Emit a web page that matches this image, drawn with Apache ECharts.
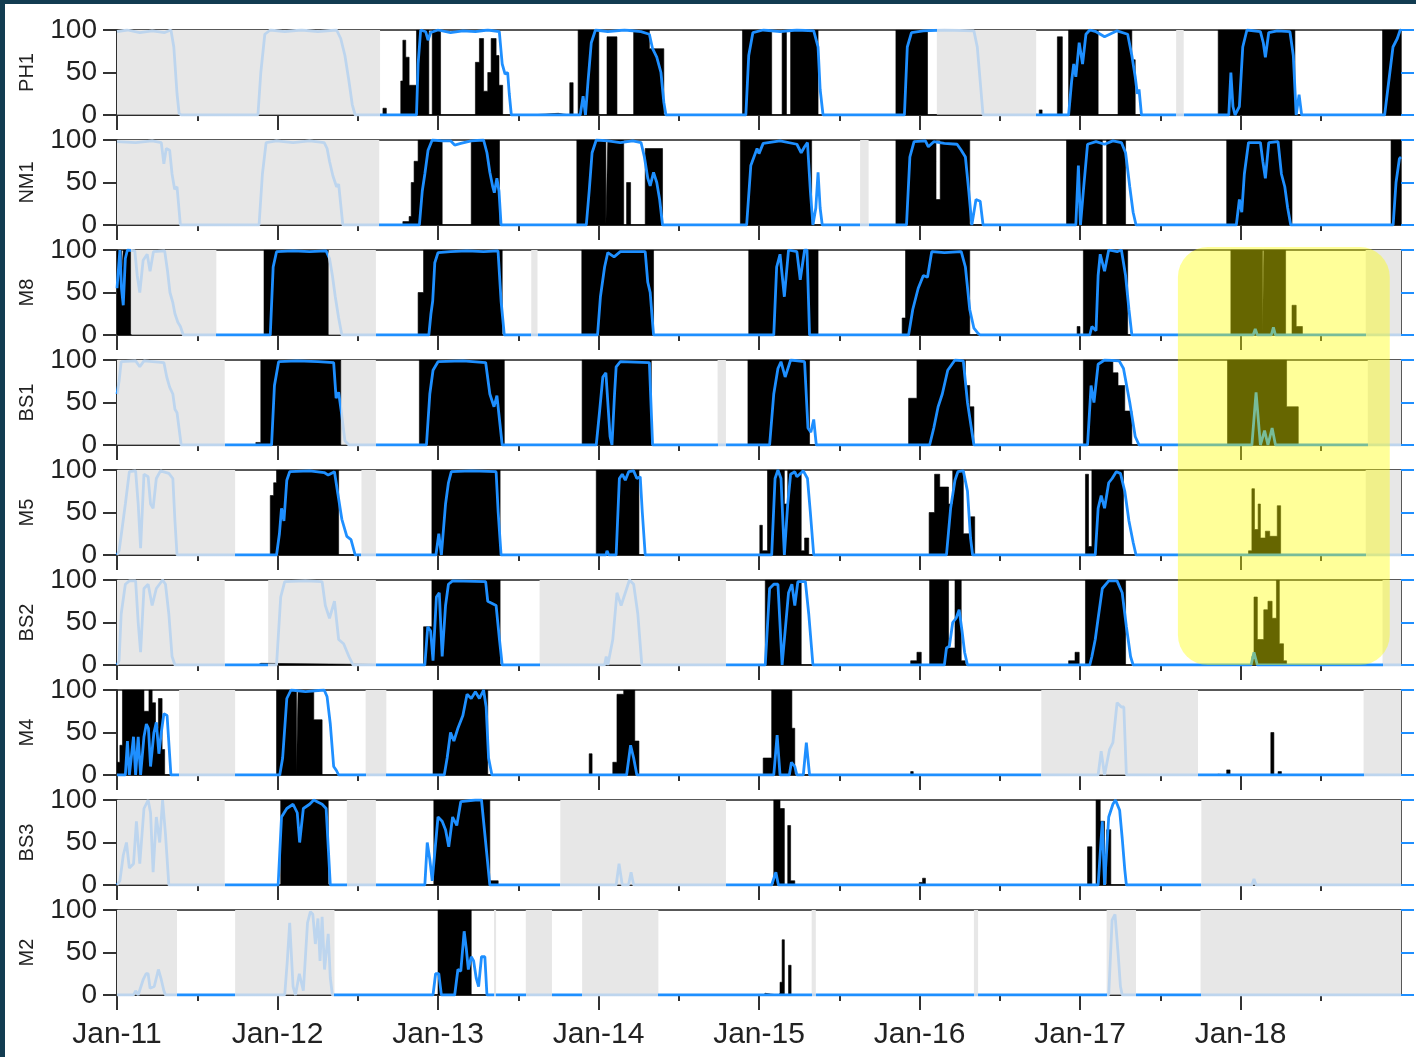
<!DOCTYPE html>
<html><head><meta charset="utf-8">
<script src="https://cdn.jsdelivr.net/npm/echarts@6/dist/echarts.min.js"></script>
<style>
html,body{margin:0;padding:0;background:#fff;}
#c{position:absolute;left:0;top:0;width:1416px;height:1057px;}
.fr{position:absolute;background:#123c51;z-index:5;}
</style></head><body>
<div id="c"></div>
<div class="fr" style="left:0;top:0;width:1416px;height:4px"></div>
<div class="fr" style="left:0;top:0;width:5px;height:1057px"></div>
<script>
// ---------- DATA (x = decimal year, y = %) ----------
const PANELS = ['PH1','NM1','M8','BS1','M5','BS2','M4','BS3','M2'];
const yearTicks = [2011,2012,2013,2014,2015,2016,2017,2018];
const yearLabels = ['Jan-11','Jan-12','Jan-13','Jan-14','Jan-15','Jan-16','Jan-17','Jan-18'];
const highlightFrom = 2017.61, highlightTo = 2018.93;
const highlightTopPanel = 'M8', highlightBottomPanel = 'BS2';

const PH1_gray = [[2011.0,2012.639],[2016.108,2016.727],[2017.599,2017.646]];
const PH1_blue = [
[2011.0,98],[2011.065,100],[2011.142,97],[2011.219,99],[2011.297,97],[2011.336,100],[2011.354,80],[2011.374,25],[2011.387,2],[2011.400,0],
[2011.878,0],[2011.896,50],[2011.921,95],[2011.955,100],[2012.045,98],[2012.149,100],[2012.252,98],[2012.368,100],[2012.394,90],[2012.420,70],[2012.445,40],[2012.466,12],[2012.484,0],
[2012.866,0],[2012.876,60],[2012.892,100],[2012.923,98],[2012.938,88],[2012.954,97],[2013.000,100],[2013.078,97],[2013.155,99],[2013.233,98],[2013.310,100],[2013.382,98],[2013.400,60],[2013.418,48],[2013.434,50],[2013.444,25],[2013.457,0],
[2013.886,0],[2013.904,22],[2013.919,0],[2013.935,40],[2013.955,85],[2013.981,100],[2014.058,98],[2014.162,100],[2014.265,98],[2014.317,95],[2014.337,78],[2014.363,68],[2014.389,50],[2014.407,15],[2014.420,0],
[2014.918,0],[2014.936,70],[2014.962,97],[2015.026,100],[2015.131,98],[2015.236,100],[2015.341,99],[2015.368,80],[2015.381,30],[2015.399,0],
[2015.906,0],[2015.924,80],[2015.950,97],[2016.024,99],[2016.155,100],[2016.339,99],[2016.360,80],[2016.378,40],[2016.396,0],
[2016.929,0],[2016.948,40],[2016.961,60],[2016.974,45],[2016.995,85],[2017.016,60],[2017.037,95],[2017.061,100],[2017.100,98],[2017.153,92],[2017.231,99],[2017.297,95],[2017.323,70],[2017.344,45],[2017.357,25],[2017.368,30],[2017.383,0],
[2017.927,0],[2017.940,50],[2017.953,10],[2017.966,0],[2017.993,10],[2018.014,80],[2018.040,100],[2018.124,98],[2018.142,85],[2018.155,68],[2018.176,97],[2018.229,99],[2018.308,98],[2018.329,70],[2018.347,0],[2018.365,24],[2018.381,0],
[2018.898,0],[2018.924,40],[2018.950,80],[2018.977,90],[2018.995,100],[2019.0,100]
];
const PH1_black = [
[2011.0,0],[2012.657,8],[2012.678,0],[2012.768,40],[2012.781,88],[2012.799,68],[2012.820,35],[2012.866,100],[2012.943,0],[2012.964,100],[2013.016,0],
[2013.233,62],[2013.258,90],[2013.284,28],[2013.310,50],[2013.331,90],[2013.362,70],[2013.380,35],[2013.403,0],
[2013.568,2],[2013.749,0],
[2013.821,38],[2013.842,0],[2013.873,100],[2014.002,0],[2014.053,92],[2014.115,0],[2014.219,100],[2014.317,78],[2014.407,0],
[2014.897,100],[2015.079,0],[2015.144,100],[2015.171,0],[2015.197,100],[2015.368,0],
[2015.853,100],[2016.050,0],
[2016.746,6],[2016.764,0],
[2016.859,92],[2016.890,0],[2016.929,100],[2017.113,0],[2017.237,100],[2017.323,65],[2017.344,0],
[2017.861,100],[2018.339,0],
[2018.885,100],[2019.0,100]
];

const NM1_gray = [[2011.0,2012.634],[2015.630,2015.683]];
const NM1_blue = [
[2011.0,98],[2011.116,97],[2011.219,99],[2011.276,97],[2011.292,72],[2011.307,90],[2011.328,88],[2011.343,60],[2011.359,42],[2011.374,45],[2011.395,0],
[2011.885,0],[2011.906,60],[2011.929,97],[2011.994,99],[2012.097,97],[2012.200,99],[2012.291,97],[2012.309,90],[2012.324,75],[2012.345,58],[2012.368,45],[2012.381,48],[2012.407,0],
[2012.884,0],[2012.902,40],[2012.918,60],[2012.938,88],[2012.964,100],[2013.026,99],[2013.078,99],[2013.104,94],[2013.142,96],[2013.207,99],[2013.284,100],[2013.305,85],[2013.323,62],[2013.341,45],[2013.351,38],[2013.367,55],[2013.380,40],[2013.393,0],
[2013.924,0],[2013.942,40],[2013.960,85],[2013.986,100],[2014.058,99],[2014.136,97],[2014.213,99],[2014.265,97],[2014.286,80],[2014.307,55],[2014.322,46],[2014.343,62],[2014.363,50],[2014.381,30],[2014.399,0],
[2014.923,0],[2014.949,70],[2014.988,90],[2015.0,84],[2015.026,96],[2015.131,99],[2015.236,95],[2015.263,85],[2015.284,92],[2015.302,97],[2015.320,40],[2015.336,0],[2015.354,20],[2015.368,62],[2015.381,20],[2015.394,0],
[2015.919,0],[2015.940,80],[2015.966,98],[2016.037,99],[2016.055,92],[2016.089,98],[2016.155,96],[2016.234,95],[2016.260,88],[2016.286,80],[2016.307,40],[2016.326,0],[2016.352,30],[2016.378,28],[2016.396,0],
[2016.974,0],[2016.990,70],[2017.003,0],[2017.021,40],[2017.047,95],[2017.100,98],[2017.153,95],[2017.205,99],[2017.258,97],[2017.284,85],[2017.310,45],[2017.331,15],[2017.349,0],
[2017.974,0],[2017.993,30],[2018.008,15],[2018.024,60],[2018.050,97],[2018.124,97],[2018.139,75],[2018.155,55],[2018.176,97],[2018.234,98],[2018.255,60],[2018.276,45],[2018.294,20],[2018.313,0],
[2018.951,0],[2018.969,50],[2018.990,78],[2019.0,80]
];
const NM1_black = [
[2011.0,0],[2012.781,4],[2012.820,10],[2012.833,50],[2012.851,75],[2012.876,100],[2013.026,0],[2013.207,100],[2013.383,0],
[2013.865,100],[2014.046,0],[2014.058,100],[2014.157,0],[2014.175,50],[2014.200,0],[2014.291,90],[2014.399,0],
[2014.884,100],[2015.328,0],
[2015.853,100],[2016.103,30],[2016.129,100],[2016.313,0],
[2016.916,100],[2017.139,0],[2017.166,100],[2017.284,0],
[2017.914,100],[2018.321,0],
[2018.938,100],[2019.0,100]
];

const M8_gray = [[2011.090,2011.619],[2012.316,2012.613],[2013.581,2013.620],[2018.780,2019.0]];
const M8_blue = [
[2011.0,55],[2011.008,75],[2011.018,100],[2011.028,55],[2011.039,35],[2011.052,90],[2011.065,100],[2011.111,99],[2011.126,70],[2011.142,50],[2011.163,88],[2011.188,95],[2011.206,75],[2011.227,98],[2011.297,99],[2011.315,75],[2011.330,50],[2011.348,38],[2011.361,25],[2011.379,15],[2011.395,10],[2011.413,0],
[2011.955,0],[2011.973,80],[2011.994,98],[2012.097,99],[2012.200,98],[2012.303,99],[2012.324,90],[2012.342,70],[2012.360,45],[2012.381,20],[2012.401,0],
[2012.943,0],[2012.956,25],[2012.967,40],[2012.980,85],[2013.000,97],[2013.078,98],[2013.181,99],[2013.284,98],[2013.374,99],[2013.393,40],[2013.413,0],
[2013.994,0],[2014.012,45],[2014.038,80],[2014.058,97],[2014.097,92],[2014.136,98],[2014.291,98],[2014.307,62],[2014.322,50],[2014.343,0],
[2015.092,0],[2015.110,80],[2015.131,95],[2015.158,45],[2015.184,100],[2015.236,98],[2015.257,65],[2015.284,100],[2015.299,100],[2015.315,0],
[2015.932,0],[2015.958,30],[2015.992,55],[2016.024,70],[2016.050,68],[2016.076,98],[2016.155,97],[2016.260,98],[2016.286,80],[2016.313,30],[2016.339,8],[2016.365,2],[2016.378,0],
[2017.061,0],[2017.074,10],[2017.100,5],[2017.113,70],[2017.126,95],[2017.153,75],[2017.179,100],[2017.231,98],[2017.258,100],[2017.284,70],[2017.305,30],[2017.323,0],
[2018.079,0],[2018.092,7],[2018.105,0],[2018.192,0],[2018.205,9],[2018.218,0],[2019.0,0]
];
const M8_black = [
[2011.0,100],[2011.028,70],[2011.039,100],[2011.085,0],
[2011.916,100],[2012.316,0],
[2012.876,50],[2012.910,100],[2013.400,0],
[2013.896,100],[2014.343,0],
[2014.936,100],[2015.368,0],
[2015.892,20],[2015.913,100],[2016.313,0],
[2016.982,10],[2017.000,0],[2017.021,100],[2017.297,0],
[2017.940,100],[2018.137,0],[2018.145,100],[2018.281,0],[2018.321,35],[2018.347,10],[2018.386,0],[2019.0,0]
];

const BS1_gray = [[2011.0,2011.671],[2012.394,2012.613],[2014.742,2014.794],[2018.793,2019.0]];
const BS1_blue = [
[2011.0,60],[2011.013,75],[2011.026,98],[2011.116,99],[2011.142,92],[2011.168,99],[2011.292,97],[2011.310,80],[2011.328,68],[2011.348,60],[2011.361,42],[2011.374,38],[2011.400,0],
[2011.963,0],[2011.981,70],[2012.007,98],[2012.123,99],[2012.252,98],[2012.350,97],[2012.365,55],[2012.381,62],[2012.397,40],[2012.420,5],[2012.445,0],
[2012.928,0],[2012.949,60],[2012.969,88],[2013.000,98],[2013.155,99],[2013.297,97],[2013.323,60],[2013.349,45],[2013.367,58],[2013.383,30],[2013.400,0],
[2013.986,0],[2014.007,40],[2014.027,80],[2014.046,85],[2014.072,10],[2014.084,0],[2014.100,60],[2014.110,92],[2014.136,98],[2014.317,97],[2014.337,0],
[2015.066,0],[2015.092,60],[2015.118,90],[2015.137,98],[2015.163,80],[2015.197,100],[2015.284,98],[2015.305,20],[2015.323,15],[2015.341,30],[2015.357,0],
[2016.063,0],[2016.089,20],[2016.116,45],[2016.142,60],[2016.176,88],[2016.221,100],[2016.273,99],[2016.299,50],[2016.339,0],
[2017.047,0],[2017.069,70],[2017.087,50],[2017.113,95],[2017.153,100],[2017.244,99],[2017.271,90],[2017.310,50],[2017.344,10],[2017.368,0],
[2018.071,0],[2018.097,62],[2018.124,0],[2018.150,17],[2018.171,0],[2018.197,20],[2018.218,0],[2019.0,0]
];
const BS1_black = [
[2011.0,0],[2011.865,3],[2011.896,100],[2012.394,0],
[2012.884,100],[2013.413,0],
[2013.898,100],[2014.329,0],
[2014.931,100],[2015.315,0],
[2015.932,55],[2015.984,100],[2016.286,70],[2016.313,45],[2016.339,0],
[2017.021,100],[2017.205,85],[2017.237,70],[2017.279,40],[2017.323,0],
[2017.919,100],[2018.287,45],[2018.360,0],[2019.0,0]
];

const M5_gray = [[2011.0,2011.736],[2012.523,2012.613],[2018.780,2019.0]];
const M5_blue = [
[2011.0,0],[2011.013,5],[2011.031,30],[2011.052,60],[2011.077,98],[2011.116,99],[2011.132,60],[2011.147,8],[2011.168,95],[2011.194,92],[2011.209,60],[2011.225,55],[2011.245,90],[2011.271,99],[2011.323,96],[2011.348,90],[2011.361,40],[2011.374,0],
[2011.994,0],[2012.012,25],[2012.025,55],[2012.040,40],[2012.058,88],[2012.076,98],[2012.200,99],[2012.291,97],[2012.316,94],[2012.355,98],[2012.376,72],[2012.401,42],[2012.432,22],[2012.458,18],[2012.484,0],
[2012.987,0],[2013.005,25],[2013.021,0],[2013.047,60],[2013.065,85],[2013.083,98],[2013.207,99],[2013.362,98],[2013.375,50],[2013.393,0],
[2014.046,0],[2014.053,5],[2014.064,0],[2014.110,0],[2014.130,90],[2014.148,95],[2014.167,88],[2014.188,98],[2014.219,99],[2014.239,90],[2014.260,92],[2014.273,50],[2014.291,0],
[2015.079,0],[2015.100,90],[2015.118,100],[2015.137,90],[2015.158,0],[2015.179,60],[2015.197,95],[2015.223,98],[2015.236,92],[2015.276,99],[2015.302,90],[2015.320,50],[2015.341,0],
[2016.168,0],[2016.194,55],[2016.221,88],[2016.239,98],[2016.273,99],[2016.299,75],[2016.318,20],[2016.331,0],
[2017.095,0],[2017.113,55],[2017.132,70],[2017.153,55],[2017.179,85],[2017.200,90],[2017.226,98],[2017.252,96],[2017.279,75],[2017.305,40],[2017.331,15],[2017.349,0],[2019.0,0]
];
const M5_black = [
[2011.0,0],[2011.955,70],[2011.976,85],[2011.994,100],[2012.381,0],
[2012.962,100],[2013.387,0],
[2013.986,100],[2014.252,0],
[2015.005,35],[2015.021,5],[2015.053,100],[2015.158,60],[2015.179,100],[2015.263,5],[2015.284,20],[2015.310,0],
[2016.060,50],[2016.094,95],[2016.126,80],[2016.181,60],[2016.207,100],[2016.273,25],[2016.318,45],[2016.344,0],
[2017.034,95],[2017.053,10],[2017.074,100],[2017.271,0],
[2018.050,5],[2018.071,78],[2018.087,30],[2018.110,60],[2018.124,20],[2018.155,28],[2018.182,22],[2018.229,58],[2018.250,0],[2019.0,0]
];

const BS2_gray = [[2011.0,2011.671],[2011.942,2012.613],[2013.633,2014.794],[2018.885,2019.0]];
const BS2_blue = [
[2011.0,0],[2011.013,5],[2011.026,60],[2011.052,95],[2011.077,99],[2011.116,99],[2011.132,50],[2011.147,15],[2011.168,90],[2011.194,95],[2011.219,70],[2011.245,90],[2011.284,100],[2011.302,95],[2011.323,60],[2011.343,10],[2011.361,0],
[2011.994,0],[2012.020,80],[2012.045,98],[2012.174,99],[2012.278,98],[2012.298,70],[2012.324,55],[2012.355,75],[2012.381,30],[2012.412,25],[2012.445,10],[2012.471,0],
[2012.918,0],[2012.936,45],[2012.954,40],[2012.969,5],[2012.990,80],[2013.008,85],[2013.026,10],[2013.047,70],[2013.065,95],[2013.091,99],[2013.297,98],[2013.310,75],[2013.362,70],[2013.383,30],[2013.400,0],
[2014.038,0],[2014.048,10],[2014.058,0],[2014.089,30],[2014.115,85],[2014.141,70],[2014.167,85],[2014.193,100],[2014.219,95],[2014.245,60],[2014.270,0],
[2015.039,0],[2015.066,90],[2015.092,95],[2015.118,95],[2015.144,0],[2015.184,85],[2015.205,95],[2015.223,70],[2015.242,98],[2015.289,98],[2015.310,60],[2015.336,0],
[2016.155,0],[2016.168,20],[2016.186,22],[2016.207,50],[2016.228,55],[2016.247,65],[2016.265,40],[2016.281,15],[2016.299,0],
[2017.061,0],[2017.074,10],[2017.095,30],[2017.113,55],[2017.139,90],[2017.179,99],[2017.231,99],[2017.263,85],[2017.289,45],[2017.315,10],[2017.331,0],
[2018.066,0],[2018.084,15],[2018.105,0],[2019.0,0]
];
const BS2_black = [
[2011.0,0],[2011.877,2],[2011.896,0],
[2012.910,45],[2012.962,100],[2013.387,0],
[2015.039,100],[2015.263,0],
[2015.945,5],[2015.984,15],[2016.011,0],[2016.063,100],[2016.181,20],[2016.221,100],[2016.260,5],[2016.286,0],
[2016.929,5],[2016.969,15],[2016.995,0],[2017.034,100],[2017.284,0],
[2018.071,10],[2018.084,80],[2018.105,30],[2018.145,65],[2018.171,75],[2018.197,55],[2018.224,100],[2018.242,25],[2018.268,5],[2018.287,0],[2019.0,0]
];

const M4_gray = [[2011.387,2011.736],[2012.549,2012.678],[2016.759,2017.735],[2018.767,2019.0]];
const M4_blue = [
[2011.0,0],[2011.052,0],[2011.065,40],[2011.077,0],[2011.103,45],[2011.116,0],[2011.132,45],[2011.147,0],[2011.168,45],[2011.183,60],[2011.196,55],[2011.209,10],[2011.230,50],[2011.245,62],[2011.261,25],[2011.276,50],[2011.292,72],[2011.312,70],[2011.336,0],
[2012.014,0],[2012.032,20],[2012.058,90],[2012.084,100],[2012.174,98],[2012.291,100],[2012.309,92],[2012.329,60],[2012.350,10],[2012.368,5],[2012.381,0],
[2013.039,0],[2013.057,20],[2013.078,50],[2013.099,40],[2013.124,55],[2013.155,70],[2013.181,95],[2013.207,90],[2013.233,98],[2013.258,90],[2013.284,100],[2013.300,80],[2013.315,20],[2013.336,0],
[2014.175,0],[2014.200,35],[2014.219,20],[2014.239,0],
[2015.092,0],[2015.113,47],[2015.131,0],[2015.189,0],[2015.202,15],[2015.223,10],[2015.236,0],[2015.276,0],[2015.295,38],[2015.315,0],
[2017.113,0],[2017.132,28],[2017.153,0],[2017.184,30],[2017.205,38],[2017.231,85],[2017.258,80],[2017.273,80],[2017.289,0],[2019.0,0]
];
const M4_black = [
[2011.0,15],[2011.018,35],[2011.034,100],[2011.168,75],[2011.199,100],[2011.219,85],[2011.240,55],[2011.258,90],[2011.281,30],[2011.297,0],
[2011.994,100],[2012.118,0],[2012.128,100],[2012.226,65],[2012.278,0],
[2012.969,100],[2013.310,0],
[2013.942,25],[2013.960,0],[2014.089,15],[2014.115,95],[2014.157,100],[2014.226,40],[2014.252,0],
[2015.026,20],[2015.079,100],[2015.205,55],[2015.223,0],
[2015.945,4],[2015.961,0],
[2017.848,1],[2017.861,0],[2017.914,6],[2017.935,0],[2018.189,50],[2018.208,0],[2018.234,4],[2018.255,0],[2019.0,0]
];

const BS3_gray = [[2011.0,2011.671],[2012.432,2012.613],[2013.762,2014.794],[2017.756,2019.0]];
const BS3_blue = [
[2011.0,0],[2011.018,5],[2011.039,35],[2011.059,50],[2011.077,20],[2011.103,25],[2011.121,75],[2011.142,25],[2011.168,90],[2011.194,100],[2011.209,85],[2011.225,15],[2011.245,80],[2011.266,50],[2011.284,100],[2011.302,60],[2011.323,0],
[2012.004,0],[2012.025,80],[2012.058,90],[2012.097,95],[2012.123,85],[2012.138,50],[2012.161,90],[2012.200,95],[2012.226,100],[2012.278,95],[2012.303,90],[2012.329,0],
[2012.918,0],[2012.933,50],[2012.949,30],[2012.964,5],[2013.000,80],[2013.026,75],[2013.047,65],[2013.067,45],[2013.091,80],[2013.117,70],[2013.142,98],[2013.233,100],[2013.271,100],[2013.297,50],[2013.323,0],
[2014.110,0],[2014.128,25],[2014.148,0],[2014.187,0],[2014.203,15],[2014.219,0],
[2015.079,0],[2015.105,15],[2015.121,0],
[2017.113,0],[2017.139,75],[2017.153,0],[2017.179,80],[2017.205,95],[2017.221,100],[2017.247,88],[2017.263,55],[2017.279,18],[2017.289,0],
[2018.071,0],[2018.084,7],[2018.097,0],[2019.0,0]
];
const BS3_black = [
[2011.0,0],[2012.020,100],[2012.316,0],
[2012.974,100],[2013.323,5],[2013.375,0],
[2015.092,100],[2015.131,90],[2015.158,0],[2015.179,70],[2015.197,5],[2015.223,0],
[2015.998,3],[2016.019,8],[2016.037,0],
[2017.047,45],[2017.074,0],[2017.100,100],[2017.126,75],[2017.153,0],[2017.166,65],[2017.192,0],[2019.0,0]
];

const M2_gray = [[2011.0,2011.374],[2011.736,2012.355],[2013.349,2013.362],[2013.547,2013.710],[2013.898,2014.373],[2015.328,2015.354],[2016.339,2016.365],[2017.166,2017.349],[2017.751,2019.0]];
const M2_blue = [
[2011.0,0],[2011.103,0],[2011.116,5],[2011.132,0],[2011.163,18],[2011.181,25],[2011.194,25],[2011.206,8],[2011.232,10],[2011.258,30],[2011.276,18],[2011.292,5],[2011.302,0],
[2012.045,0],[2012.061,40],[2012.076,85],[2012.097,10],[2012.112,0],[2012.136,25],[2012.161,5],[2012.187,85],[2012.205,98],[2012.220,95],[2012.236,60],[2012.252,90],[2012.265,40],[2012.278,92],[2012.293,30],[2012.316,72],[2012.329,20],[2012.342,0],
[2012.920,0],[2012.930,2],[2012.969,0],[2012.985,25],[2013.005,25],[2013.021,0],[2013.104,0],[2013.124,30],[2013.142,28],[2013.163,75],[2013.176,55],[2013.189,30],[2013.207,45],[2013.222,40],[2013.238,20],[2013.253,10],[2013.271,45],[2013.292,45],[2013.305,0],
[2017.179,0],[2017.200,88],[2017.218,95],[2017.237,50],[2017.252,10],[2017.263,0],[2019.0,0]
];
const M2_black = [
[2011.0,0],[2013.000,100],[2013.207,0],
[2015.026,2],[2015.039,0],[2015.118,2],[2015.131,15],[2015.144,65],[2015.158,0],[2015.184,35],[2015.200,0],[2019.0,0]
];

const GRAY_RANGES = [PH1_gray,NM1_gray,M8_gray,BS1_gray,M5_gray,BS2_gray,M4_gray,BS3_gray,M2_gray];
const BLUE_LINES  = [PH1_blue,NM1_blue,M8_blue,BS1_blue,M5_blue,BS2_blue,M4_blue,BS3_blue,M2_blue];
const BLACK_BARS  = [PH1_black,NM1_black,M8_black,BS1_black,M5_black,BS2_black,M4_black,BS3_black,M2_black];

// ---------- CHART ----------
const BLUE = '#1e8fff', PALE = '#bdd5ee', GRAYC = '#e7e7e7', INK = '#222';
const FONT = '"Liberation Sans", Arial, sans-serif';
const chart = echarts.init(document.getElementById('c'), null, {renderer:'canvas'});
const grid = [], xAxis = [], yAxis = [], series = [], visualMap = [];
PANELS.forEach((name, i) => {
  const last = i === PANELS.length - 1;
  grid.push({left:117, right:15, top:30 + 110*i, height:85, show:true, borderColor:INK, borderWidth:1.5, backgroundColor:'transparent'});
  xAxis.push({
    type:'value', gridIndex:i, min:2011, max:2019, interval:1,
    axisLine:{show:true, onZero:false, lineStyle:{color:INK, width:1.5}},
    axisTick:{show:true, length:15, customValues:yearTicks, lineStyle:{color:'#333', width:2}},
    minorTick:{show:true, splitNumber:2, length:6, lineStyle:{color:'#333', width:2}},
    axisLabel:{show:last, customValues:yearTicks, formatter:(v)=>yearLabels[yearTicks.indexOf(Math.round(v))] || '',
      fontSize:30, color:INK, fontFamily:FONT, margin:25},
    splitLine:{show:false}, minorSplitLine:{show:false}
  });
  yAxis.push({
    type:'value', gridIndex:i, min:0, max:100, interval:50,
    name:name, nameLocation:'middle', nameGap:80,
    nameTextStyle:{fontSize:20, color:INK, fontFamily:FONT},
    axisLine:{show:true, lineStyle:{color:INK, width:1.5}},
    axisTick:{show:true, length:14, lineStyle:{color:'#333', width:2}},
    axisLabel:{fontSize:28, color:INK, fontFamily:FONT, margin:20},
    splitLine:{show:false}
  });
  yAxis.push({
    type:'value', gridIndex:i, position:'right', min:0, max:100, interval:50,
    axisLine:{show:false}, axisTick:{show:true, length:13, lineStyle:{color:BLUE, width:2}},
    axisLabel:{show:false}, splitLine:{show:false}
  });
  series.push({
    type:'line', name:name + ' presence', xAxisIndex:i, yAxisIndex:2*i, data:BLACK_BARS[i],
    step:'end', symbol:'none', silent:true, z:2,
    lineStyle:{width:0.6, color:'#000'}, itemStyle:{color:'#000'}, areaStyle:{color:'#000', opacity:1},
    markArea:{silent:true, label:{show:false}, itemStyle:{color:GRAYC},
      data:GRAY_RANGES[i].map(r => [{xAxis:r[0]}, {xAxis:r[1]}])}
  });
  series.push({
    type:'line', name:name + ' model', xAxisIndex:i, yAxisIndex:2*i, data:BLUE_LINES[i],
    symbol:'none', silent:true, z:3, lineStyle:{width:2.8}
  });
  visualMap.push({
    type:'piecewise', show:false, seriesIndex:2*i + 1, dimension:0,
    pieces:GRAY_RANGES[i].map(r => ({gte:r[0], lte:r[1], color:PALE})),
    outOfRange:{color:BLUE}
  });
});

chart.setOption({animation:false, backgroundColor:'#fff', grid, xAxis, yAxis, series, visualMap});

const ti = PANELS.indexOf(highlightTopPanel), bi = PANELS.indexOf(highlightBottomPanel);
const p1 = chart.convertToPixel({gridIndex:ti}, [highlightFrom, 100]);
const p2 = chart.convertToPixel({gridIndex:bi}, [highlightTo, 0]);
chart.setOption({graphic:[{
  type:'rect', silent:true, z:100,
  shape:{x:p1[0], y:p1[1] - 3, width:p2[0] - p1[0], height:p2[1] - p1[1] + 3, r:30},
  style:{fill:'rgba(255,255,0,0.4)'}
}]});
</script>
</body></html>
